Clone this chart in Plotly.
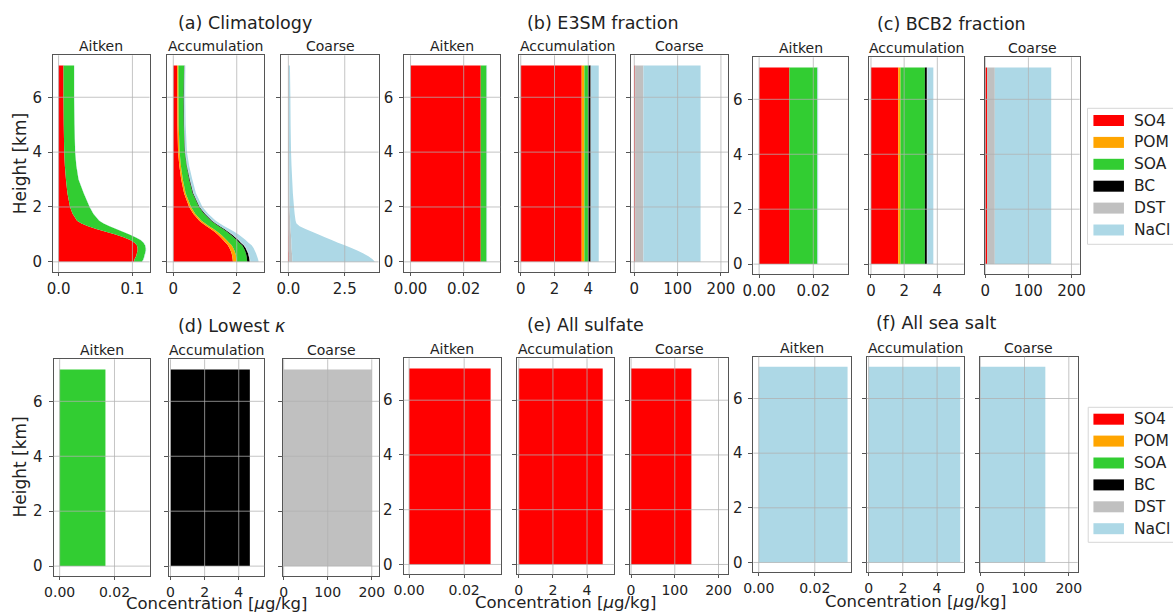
import plotly.graph_objects as go

W, H = 1173, 613
FONT = "DejaVu Sans"

species = ["SO4", "POM", "SOA", "BC", "DST", "NaCl"]
colors = ["#ff0000", "#ffa500", "#32cd32", "#000000", "#c0c0c0", "#add8e6"]
modes = ["Aitken", "Accumulation", "Coarse"]

# ---------------- (a) climatology profiles ----------------
heights = [0.0, 0.1, 0.2, 0.3, 0.4, 0.5, 0.6, 0.7, 0.8, 0.9, 1.0, 1.1, 1.2, 1.3,
           1.4, 1.5, 1.75, 2.0, 2.5, 3.0, 3.5, 4.0, 5.0, 6.0, 7.16]

clim_ait_so4 = [0.102, 0.103, 0.105, 0.106, 0.107, 0.107, 0.106, 0.103, 0.097, 0.088,
                0.077, 0.064, 0.051, 0.040, 0.031, 0.025, 0.019, 0.0155, 0.012, 0.010,
                0.0085, 0.0076, 0.007, 0.0067, 0.0067]
clim_ait_pom = [0.0] * 25
clim_ait_soa = [0.011, 0.012, 0.011, 0.011, 0.011, 0.011, 0.011, 0.012, 0.014, 0.016,
                0.019, 0.023, 0.027, 0.029, 0.030, 0.030, 0.028, 0.0265, 0.022, 0.017,
                0.0155, 0.0148, 0.0145, 0.0143, 0.0143]
clim_ait_bc = [0.0] * 25
clim_ait_dst = [0.0] * 25
clim_ait_ncl = [0.0006, 0.0006, 0.0006, 0.0006, 0.0006, 0.0006, 0.0006, 0.0006, 0.0006,
                0.0005, 0.0005, 0.0005, 0.0005, 0.0005, 0.0004, 0.0004, 0.0004, 0.0004,
                0.0003, 0.0003, 0.0003, 0.0003, 0.0003, 0.0003, 0.0003]

clim_acc_so4 = [1.88, 1.87, 1.86, 1.84, 1.81, 1.77, 1.72, 1.65, 1.57, 1.49, 1.40, 1.30,
                1.18, 1.05, 0.93, 0.82, 0.63, 0.50, 0.34, 0.25, 0.19, 0.15, 0.13, 0.125, 0.12]
clim_acc_pom = [0.12, 0.12, 0.12, 0.12, 0.12, 0.12, 0.12, 0.11, 0.11, 0.10, 0.10, 0.09,
                0.09, 0.08, 0.08, 0.07, 0.06, 0.06, 0.05, 0.05, 0.05, 0.05, 0.04, 0.04, 0.04]
clim_acc_soa = [0.33, 0.33, 0.33, 0.33, 0.33, 0.33, 0.33, 0.32, 0.32, 0.31, 0.30, 0.30,
                0.30, 0.30, 0.30, 0.30, 0.28, 0.25, 0.22, 0.20, 0.18, 0.16, 0.16, 0.16, 0.18]
clim_acc_bc = [0.08, 0.08, 0.07, 0.07, 0.06, 0.06, 0.05, 0.05, 0.05, 0.05, 0.05, 0.04,
               0.04, 0.04, 0.03, 0.03, 0.03, 0.02, 0.02, 0.02, 0.01, 0.01, 0.01, 0.01, 0.01]
clim_acc_dst = [0.02, 0.02, 0.02, 0.02, 0.02, 0.02, 0.02, 0.02, 0.02, 0.02, 0.02, 0.02,
                0.01, 0.01, 0.01, 0.01, 0.01, 0.01, 0.01, 0.01, 0.01, 0.01, 0.01, 0.01, 0.01]
clim_acc_ncl = [0.26, 0.25, 0.24, 0.23, 0.23, 0.23, 0.23, 0.22, 0.21, 0.20, 0.19, 0.17,
                0.15, 0.13, 0.12, 0.11, 0.09, 0.08, 0.075, 0.07, 0.06, 0.05, 0.04, 0.03, 0.02]

clim_crs_so4 = [0.03, 0.03, 0.03, 0.03, 0.02, 0.02, 0.02, 0.02, 0.02, 0.02, 0.015, 0.015,
                0.01, 0.01, 0.01, 0.01, 0.008, 0.005, 0.004, 0.003, 0.003, 0.002, 0.002,
                0.002, 0.002]
clim_crs_pom = [0.0] * 25
clim_crs_soa = [0.0] * 25
clim_crs_bc = [0.0] * 25
clim_crs_dst = [0.14, 0.14, 0.14, 0.13, 0.13, 0.12, 0.12, 0.11, 0.11, 0.10, 0.10, 0.09,
                0.09, 0.08, 0.08, 0.07, 0.06, 0.05, 0.04, 0.04, 0.03, 0.03, 0.02, 0.02, 0.02]
clim_crs_ncl = [3.67, 3.55, 3.38, 3.17, 2.93, 2.66, 2.36, 2.07, 1.79, 1.50, 1.225, 0.945,
                0.66, 0.41, 0.27, 0.24, 0.21, 0.195, 0.156, 0.127, 0.107, 0.088, 0.078,
                0.068, 0.048]

# ---------------- constant-profile scenarios (SO4, POM, SOA, BC, DST, NaCl) ----------------
col_heights = [0.0, 7.16]

e3sm_ait = [0.0264, 0.0, 0.0022, 0.0, 0.0, 0.0002]
e3sm_acc = [3.61, 0.16, 0.22, 0.15, 0.02, 0.46]
e3sm_crs = [2.0, 0.0, 0.0, 0.0, 19.0, 132.0]

bcb2_ait = [0.0112, 0.0, 0.0103, 0.0, 0.0, 0.0003]
bcb2_acc = [1.64, 0.14, 1.47, 0.12, 0.03, 0.36]
bcb2_crs = [4.0, 0.0, 0.0, 0.0, 18.0, 131.0]

lowk_ait = [0.0, 0.0, 0.0167, 0.0, 0.0, 0.0]
lowk_acc = [0.0, 0.0, 0.0, 4.65, 0.0, 0.0]
lowk_crs = [0.0, 0.0, 0.0, 0.0, 200.0, 0.0]

sulf_ait = [0.0296, 0.0, 0.0, 0.0, 0.0, 0.0]
sulf_acc = [4.92, 0.0, 0.0, 0.0, 0.0, 0.0]
sulf_crs = [138.0, 0.0, 0.0, 0.0, 0.0, 0.0]

salt_ait = [0.0, 0.0, 0.0, 0.0, 0.0, 0.0317]
salt_acc = [0.0, 0.0, 0.0, 0.0, 0.0, 5.35]
salt_crs = [0.0, 0.0, 0.0, 0.0, 0.0, 147.0]

panel_titles = ["(a) Climatology", "(b) E3SM fraction", "(c) BCB2 fraction",
                "(d) Lowest <i>κ</i>", "(e) All sulfate", "(f) All sea salt"]

clim_profiles = {
    "Aitken": [clim_ait_so4, clim_ait_pom, clim_ait_soa, clim_ait_bc, clim_ait_dst, clim_ait_ncl],
    "Accumulation": [clim_acc_so4, clim_acc_pom, clim_acc_soa, clim_acc_bc, clim_acc_dst, clim_acc_ncl],
    "Coarse": [clim_crs_so4, clim_crs_pom, clim_crs_soa, clim_crs_bc, clim_crs_dst, clim_crs_ncl],
}
const_scen = [
    [e3sm_ait, e3sm_acc, e3sm_crs],
    [bcb2_ait, bcb2_acc, bcb2_crs],
    [lowk_ait, lowk_acc, lowk_crs],
    [sulf_ait, sulf_acc, sulf_crs],
    [salt_ait, salt_acc, salt_crs],
]

# ---------------- layout geometry (pixels) ----------------
group_x = [
    [(42.7, 140.7), (158.7, 257.3), (274.7, 373.3)],
    [(399.3, 497.0), (515.7, 613.7), (629.7, 728.3)],
    [(754.0, 850.0), (871.7, 967.7), (989.3, 1085.3)],
    [(43.3, 141.0), (160.0, 257.3), (276.0, 374.0)],
    [(398.7, 497.7), (514.0, 612.7), (628.7, 728.3)],
    [(754.0, 853.3), (869.0, 968.3), (984.0, 1083.3)],
]
group_y = [(55.3, 271.7), (55.3, 271.7), (57.3, 274.0),
           (359.3, 576.0), (358.3, 574.3), (356.7, 572.3)]
group_xr = [
    [(-0.0075, 0.1232), (-0.19, 2.87), (-0.305, 4.0)],
    [(-0.0024, 0.0338), (-0.117, 5.6), (-7.5, 216.6)],
    [(-0.0021, 0.0328), (-0.1, 5.6), (-0.5, 219.0)],
    [(-0.0022, 0.0329), (-0.115, 5.5), (-2.0, 217.0)],
    [(-0.002, 0.0334), (-0.1, 5.6), (-2.3, 222.0)],
    [(-0.0019, 0.033), (-0.115, 5.6), (-0.7, 220.0)],
]
title_pos = [(237.5, 22.5), (601, 22.5), (955, 23.5), (224, 325.5), (583, 325), (940, 323)]
yrange = [-0.36, 7.53]
ytick_vals = [0, 2, 4, 6]

xticks_a = [([0.0, 0.1], ["0.0", "0.1"]), ([0, 2], ["0", "2"]), ([0, 2.5], ["0.0", "2.5"])]
xticks_o = [([0, 0.02], ["0.00", "0.02"]), ([0, 2, 4], ["0", "2", "4"]),
            ([0, 100, 200], ["0", "100", "200"])]


def px(x):
    return x / W


def py(y):
    return 1 - y / H


fig = go.Figure()
layout = dict(
    width=W, height=H, margin=dict(l=0, r=0, t=0, b=0),
    paper_bgcolor="white", plot_bgcolor="white", showlegend=False,
    font=dict(family=FONT, size=14, color="#222"),
)
annotations = []
shapes = []
GRID = "rgba(176,176,176,0.75)"
FRAME = "#555"
TICKFONT = dict(size=15, color="#222")
TICKFONT_BOTTOM = dict(size=14, color="#222")

n = 0
for g in range(6):
    for m in range(3):
        n += 1
        sfx = "" if n == 1 else str(n)
        xa, ya = "x" + sfx, "y" + sfx
        if g == 0:
            profs = clim_profiles[modes[m]]
            for s in range(6):
                fig.add_trace(go.Scatter(
                    x=profs[s], y=heights, xaxis=xa, yaxis=ya,
                    stackgroup="g%d" % n, orientation="h", mode="none",
                    fillcolor=colors[s], name=species[s], hoverinfo="skip"))
        else:
            vals = const_scen[g - 1][m]
            for s in range(6):
                fig.add_trace(go.Scatter(
                    x=[vals[s], vals[s]], y=col_heights, xaxis=xa, yaxis=ya,
                    stackgroup="g%d" % n, orientation="h", mode="none",
                    fillcolor=colors[s], name=species[s], hoverinfo="skip"))
        x0, x1 = group_x[g][m]
        top, bot = group_y[g]
        tv, tt = (xticks_a if g == 0 else xticks_o)[m]
        layout["xaxis" + sfx] = dict(
            domain=[px(x0), px(x1)], range=list(group_xr[g][m]), anchor=ya,
            tickvals=tv, ticktext=tt, ticks="outside", ticklen=3, tickcolor=FRAME,
            showgrid=False, zeroline=False, showline=True, mirror=True,
            linecolor=FRAME, linewidth=1,
            tickfont=(TICKFONT if g < 3 else TICKFONT_BOTTOM))
        layout["yaxis" + sfx] = dict(
            domain=[py(bot), py(top)], range=yrange, anchor=xa,
            tickvals=ytick_vals, ticks="outside", ticklen=4, tickcolor=FRAME,
            ticklabelstandoff=3,
            showticklabels=(m == 0), showgrid=False, zeroline=False, showline=True,
            mirror=True, linecolor=FRAME, linewidth=1, tickfont=TICKFONT)
        # grid drawn above the fills, as in the reference
        for t in tv:
            shapes.append(dict(type="line", xref=xa, yref=ya + " domain", x0=t, x1=t,
                               y0=0, y1=1, layer="above", line=dict(color=GRID, width=1)))
        for t in ytick_vals:
            shapes.append(dict(type="line", xref=xa + " domain", yref=ya, x0=0, x1=1,
                               y0=t, y1=t, layer="above", line=dict(color=GRID, width=1)))
        annotations.append(dict(text=modes[m], x=px((x0 + x1) / 2), y=py(top - 9),
                                xref="paper", yref="paper", showarrow=False,
                                xanchor="center", yanchor="middle",
                                font=dict(size=14, color="#222")))
    tx, ty = title_pos[g]
    annotations.append(dict(text=panel_titles[g], x=px(tx), y=py(ty), xref="paper",
                            yref="paper", showarrow=False, xanchor="center",
                            yanchor="middle", font=dict(size=17.5, color="#222")))

for yc in (163.3, 466.7):
    annotations.append(dict(text="Height [km]", x=px(9), y=py(yc), xref="paper",
                            yref="paper", showarrow=False, textangle=-90,
                            xanchor="center", yanchor="middle",
                            font=dict(size=17, color="#222")))
for xc, yc in ((208.3, 603.0), (563.3, 602.0), (918.3, 601.0)):
    annotations.append(dict(text="Concentration [<i>μ</i>g/kg]", x=px(xc), y=py(yc),
                            xref="paper", yref="paper", showarrow=False,
                            xanchor="center", yanchor="middle", borderpad=0,
                            font=dict(size=16.5, color="#222")))

# legends (two copies, as in the reference)
for (bx0, by0, by1, first_row) in ((1093.3, 108.3, 244.3, 120.5), (1094.0, 407.3, 542.3, 419.2)):
    shapes.append(dict(type="rect", xref="paper", yref="paper", x0=px(bx0), x1=px(1190),
                       y0=py(by1), y1=py(by0), layer="above",
                       line=dict(color="#d6d6d6", width=1), fillcolor="rgba(255,255,255,0.8)"))
    for i, (sp, c) in enumerate(zip(species, colors)):
        yc = first_row + i * 21.9
        shapes.append(dict(type="rect", xref="paper", yref="paper", x0=px(1099.3), x1=px(1130.3),
                           y0=py(yc + 5.5), y1=py(yc - 5.5), layer="above",
                           line=dict(width=0), fillcolor=c))
        annotations.append(dict(text=sp, x=px(1138.5), y=py(yc), xref="paper", yref="paper",
                                showarrow=False, xanchor="left", yanchor="middle",
                                font=dict(size=15.5, color="#222")))

layout["annotations"] = annotations
layout["shapes"] = shapes
fig.update_layout(**layout)
fig.write_html("out.html")
